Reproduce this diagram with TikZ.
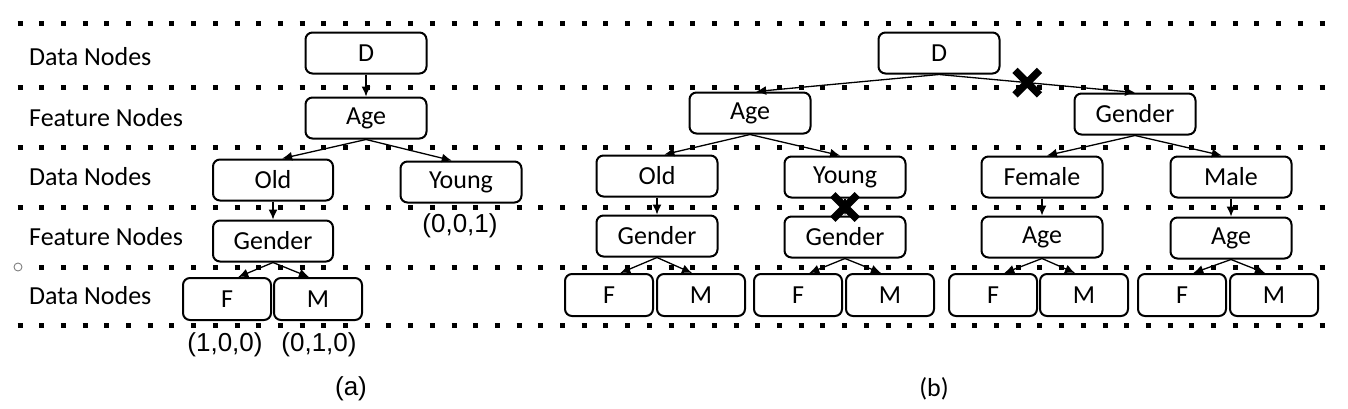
\documentclass[tikz,border=0pt]{standalone}
\usepackage{fontspec}
\setmainfont{Carlito}
\newfontfamily\vecfont{Liberation Sans}
\usetikzlibrary{arrows.meta,calc,positioning,shapes.misc}
\tikzset{box/.style={draw, rounded corners=7pt, line width=2pt, minimum width=121pt, minimum height=41pt, inner sep=0pt}}
\tikzstyle{leaf}=[box, minimum width=88pt, minimum height=42pt]
\tikzstyle{row}=[line width=5pt, dash pattern=on 5pt off 16.7pt]
\tikzstyle{xmark}=[cross out, draw, line width=7.5pt, minimum size=17pt, inner sep=0pt]
\tikzstyle{lvl}=[anchor=west, inner sep=0pt]
\tikzstyle{vec}=[font=\vecfont\fontsize{26}{30}\selectfont, inner sep=0pt]

\begin{document}
\begin{tikzpicture}[x=1pt, y=-1pt, >={Latex[length=10pt,width=9pt]}, font=\fontsize{26}{30}\selectfont]
\useasboundingbox (0,0) rectangle (1348,408);
% dotted level lines
\draw[row] (17.5,23) -- (1325,23);
\draw[row] (17.5,87) -- (1325,87);
\draw[row] (17.5,147) -- (1325,147);
\draw[row] (17.5,207) -- (1325,207);
\draw[row] (39.2,267) -- (1325,267);
\draw[row] (17.5,325) -- (1325,325);
\draw[gray, line width=0.9pt] (18,267) circle (4pt);

\node[lvl] (L1) at (29,57) {Data Nodes};
\node[lvl] (L2) at (29,118) {Feature Nodes};
\node[lvl] (L3) at (29,177) {Data Nodes};
\node[lvl] (L4) at (29,237) {Feature Nodes};
\node[lvl] (L5) at (29,296) {Data Nodes};

% (a)
\node[box] (aD) at (366,53) {D};
\node[box] (aAge) at (366,118) {Age};
\node[box, minimum width=120pt] (aOld) at (273,180) {Old};
\node[box] (aYoung) at (461,182) {Young};
\node[box, minimum width=120pt] (aGen) at (273,241) {Gender};
\node[leaf] (aF) at (227,299) {F};
\node[leaf] (aM) at (318,299) {M};
\node[vec] (aY) at (460,226) {(0,0,1)};
\node[vec] (aFv) at (225,345) {(1,0,0)};
\node[vec] (aMv) at (319,345) {(0,1,0)};
\node[vec] (capa) at (351,389) {(a)};

\path[->, line width=1.3pt]
   (aD) edge (aAge)
   (aAge.south) edge ($(aOld.north)!0.15!(aOld.north east)$)
   (aAge.south) edge ($(aYoung.north)!0.15!(aYoung.north west)$)
   (aOld) edge (aGen)
   (aGen.south) edge ($(aF.north)!0.25!(aF.north east)$)
   (aGen.south) edge ($(aM.north)!0.2!(aM.north west)$);

% (b)
\node[box] (bD) at (939,53) {D};
\node[box] (bAge) at (750,113) {Age};
\node[box] (bGen) at (1135,114) {Gender};
\node[box] (bOld) at (657,176) {Old};
\node[box] (bYoung) at (845,177) {Young};
\node[box] (bFem) at (1042,177) {Female};
\node[box] (bMale) at (1231,177) {Male};
\node[box] (bGenO) at (657,236) {Gender};
\node[box] (bGenY) at (845,237) {Gender};
\node[box] (bAgeF) at (1042,237) {Age};
\node[box] (bAgeM) at (1231,238) {Age};
\node[leaf] (bF1) at (609,295) {F};
\node[leaf] (bM1) at (701,295) {M};
\node[leaf] (bF2) at (798,295) {F};
\node[leaf] (bM2) at (890,295) {M};
\node[leaf] (bF3) at (993,295) {F};
\node[leaf] (bM3) at (1084,295) {M};
\node[leaf] (bF4) at (1182,295) {F};
\node[leaf] (bM4) at (1274,295) {M};
\node (capb) at (934,389) {(b)};

\path[->, line width=1.3pt]
   (bD.south) edge ($(bAge.north)!0.1!(bAge.north east)$)
   (bD.south) edge node[xmark, pos=0.45] (cut1) {} (bGen.north)
   (bAge.south) edge ($(bOld.north)!0.12!(bOld.north east)$)
   (bAge.south) edge ($(bYoung.north)!0.08!(bYoung.north west)$)
   (bGen.south) edge ($(bFem.north)!0.08!(bFem.north east)$)
   (bGen.south) edge ($(bMale.north)!0.15!(bMale.north west)$)
   (bOld) edge (bGenO)
   (bYoung) edge node[xmark] (cut2) {} (bGenY)
   (bFem) edge (bAgeF)
   (bMale) edge (bAgeM)
   (bGenO.south) edge ($(bF1.north)!0.25!(bF1.north east)$)
   (bGenO.south) edge ($(bM1.north)!0.2!(bM1.north west)$)
   (bGenY.south) edge ($(bF2.north)!0.25!(bF2.north east)$)
   (bGenY.south) edge ($(bM2.north)!0.2!(bM2.north west)$)
   (bAgeF.south) edge ($(bF3.north)!0.25!(bF3.north east)$)
   (bAgeF.south) edge ($(bM3.north)!0.2!(bM3.north west)$)
   (bAgeM.south) edge ($(bF4.north)!0.25!(bF4.north east)$)
   (bAgeM.south) edge ($(bM4.north)!0.2!(bM4.north west)$);
\end{tikzpicture}
\end{document}
